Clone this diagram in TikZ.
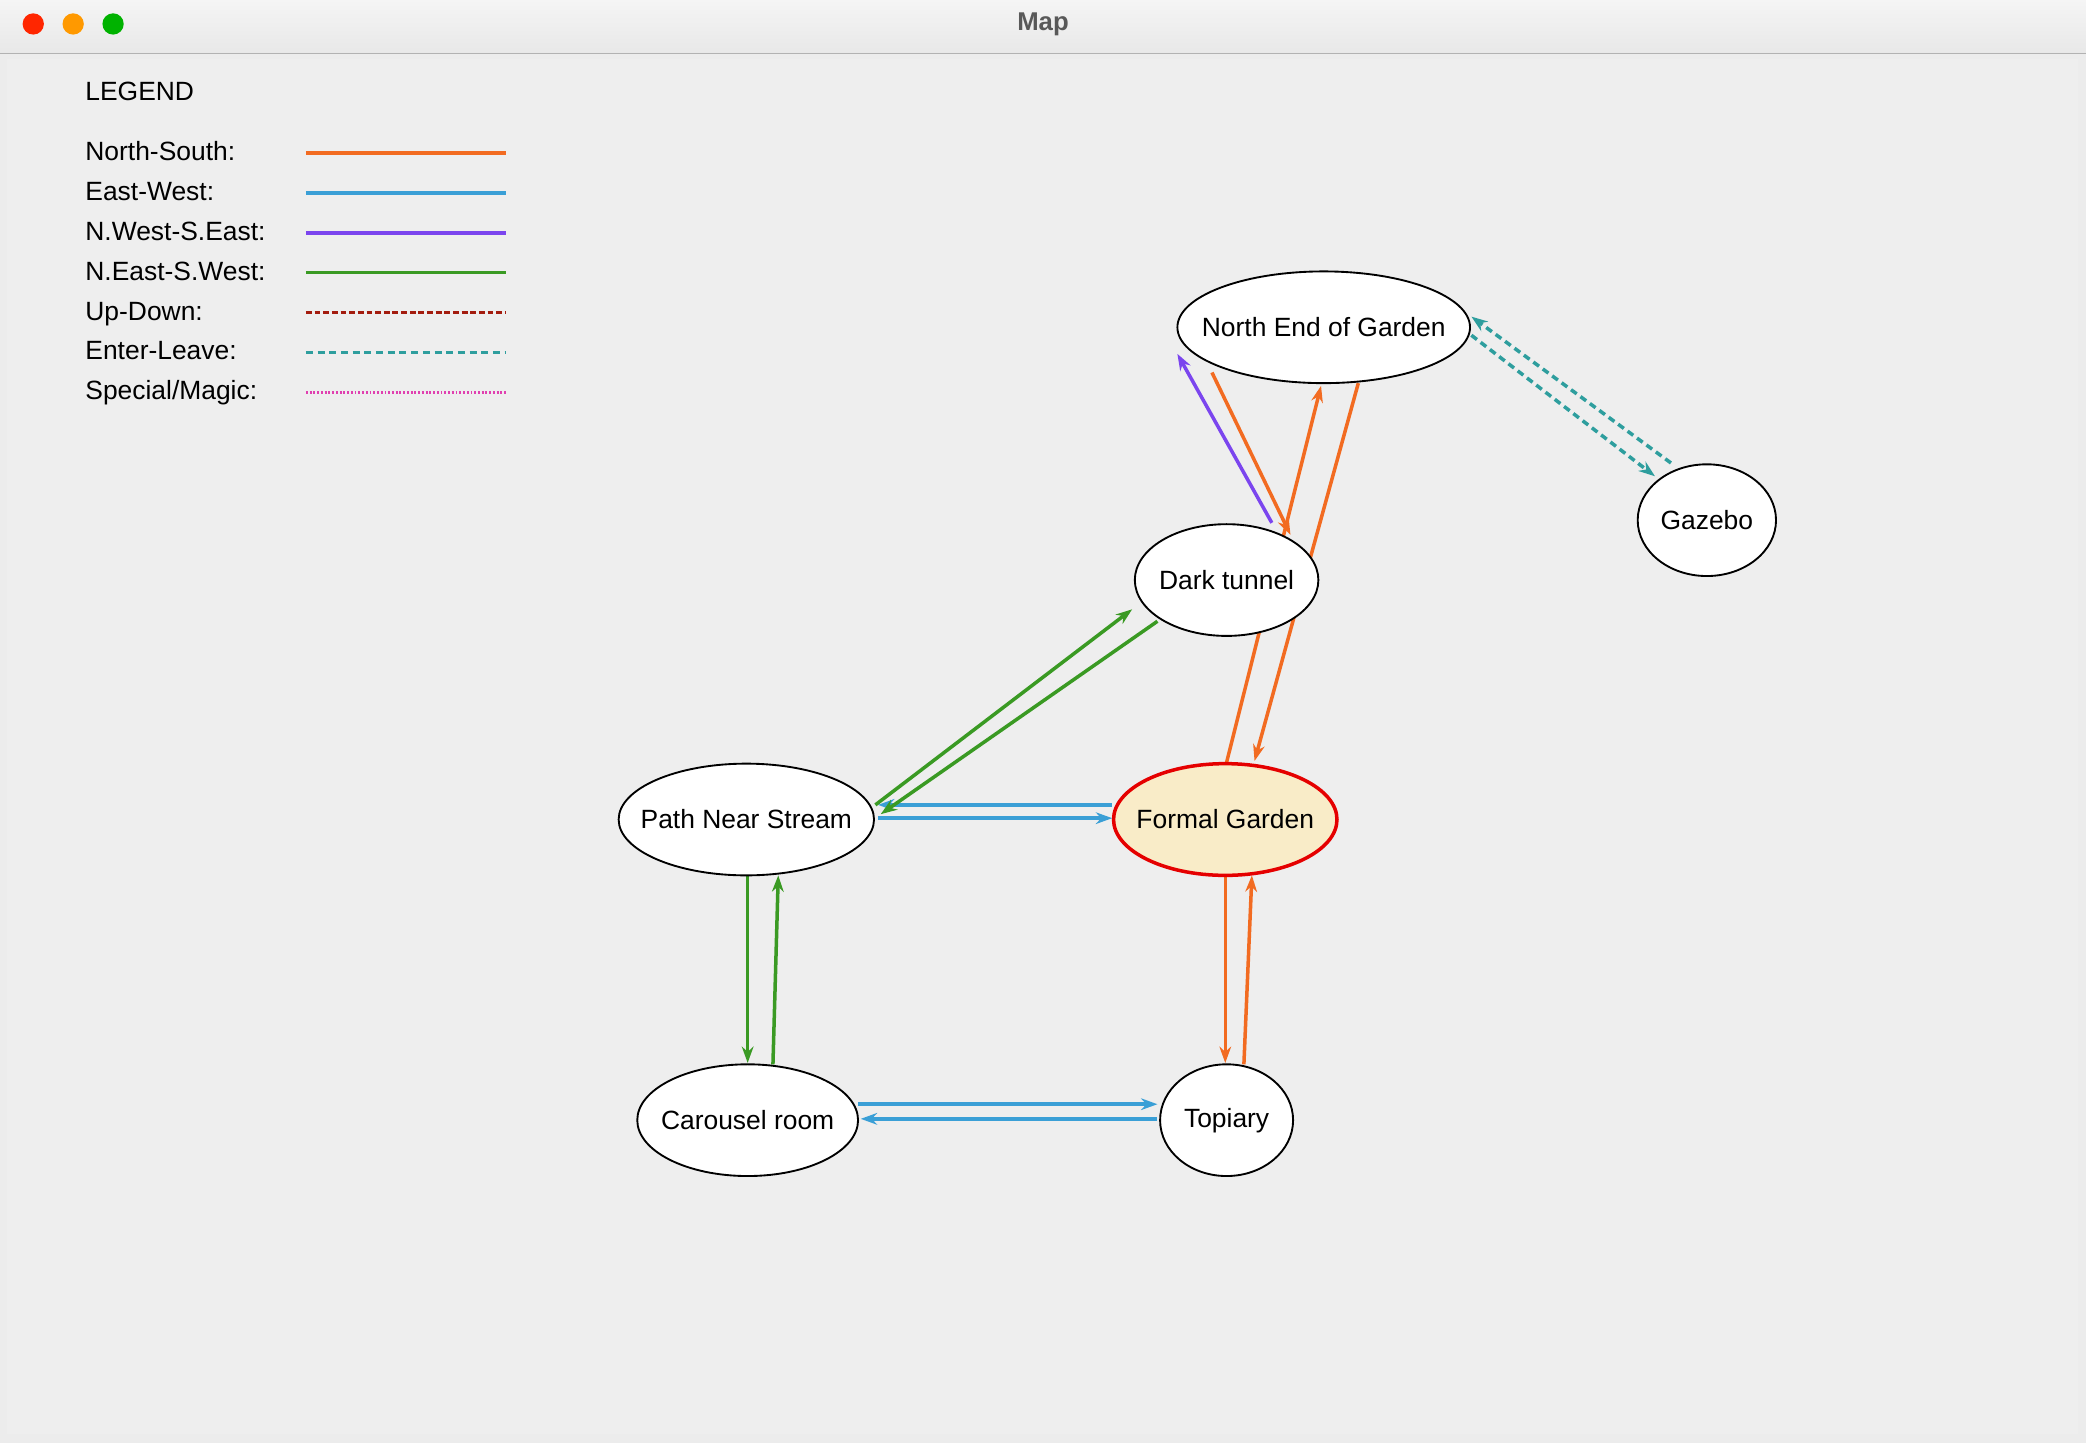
\documentclass[tikz,border=0pt]{standalone}
\usepackage{fontspec}
\setmainfont{Liberation Sans}
\usetikzlibrary{calc,shapes.geometric,arrows.meta}
\definecolor{ns}{RGB}{242,107,33}
\definecolor{ew}{RGB}{58,159,214}
\definecolor{nwse}{RGB}{123,69,238}
\definecolor{nesw}{RGB}{58,154,35}
\definecolor{ud}{RGB}{163,28,14}
\definecolor{el}{RGB}{46,158,158}
\definecolor{mag}{RGB}{224,64,176}
\definecolor{bg}{RGB}{238,238,238}
\definecolor{fgfill}{RGB}{249,236,200}
\tikzset{
  room/.style={ellipse,draw,line width=0.8pt,fill=white,inner sep=0pt,minimum height=1.68cm,
    label={[font=\fontsize{11.3}{13}\selectfont]center:#1}},
  lab/.style={anchor=west,text height=1.6ex,text depth=.4ex,font=\fontsize{11.3}{13}\selectfont},
  link/.style={line width=1.5pt,-{Stealth[length=7pt,width=5pt]}},
  solidl/.style={},
  udl/.style={dash pattern=on 2.5pt off 1.2pt},
  ell/.style={dash pattern=on 3pt off 2pt},
  magl/.style={dash pattern=on 0.8pt off 0.8pt},
}
\begin{document}
\begin{tikzpicture}[x=0.02cm,y=-0.02cm]
\useasboundingbox (0,0) rectangle (1568,1085);
% window
\fill[white!85!gray] (0,0) rectangle (1568,1085);
\shade[top color=white!92!gray,bottom color=white!82!gray] (0,0) rectangle (1568,40);
\draw[gray!60] (0,40) -- (1568,40);
\fill[bg] (5,44) rectangle (1562,1078);
\fill[red!70!orange] (25,18) circle (8);
\fill[orange!80!yellow] (55,18) circle (8);
\fill[green!70!black] (85,18) circle (8);
\node[font=\bfseries\fontsize{11}{13}\selectfont,text=black!65] (title) at (784,18) {Map};
% legend
\node[lab] (leg) at (58,70) {LEGEND};
\foreach \t/\c/\s [count=\i] in {North-South:/ns/solidl,East-West:/ew/solidl,N.West-S.East:/nwse/solidl,N.East-S.West:/nesw/solidl,Up-Down:/ud/udl,Enter-Leave:/el/ell,{Special/Magic:}/mag/magl}{
  \node[lab] (l\i) at (58,85+30*\i) {\t};
  \coordinate (a\i) at (230,85+30*\i);
  \coordinate (b\i) at (380,85+30*\i);
  \draw[\c,line width=1.5pt,\s] (a\i) -- (b\i);
}
% room centres
\coordinate (N) at (995,246);
\coordinate (G) at (1283,391);
\coordinate (D) at (922,436);
\coordinate (P) at (561,616);
\coordinate (F) at (921,616);
\coordinate (C) at (562,842);
\coordinate (T) at (922,842);
% edges
\draw[link,ns] ($(F)+(1,-43)$) -- ($(N)+(-2,44)$);
\draw[link,ns] ($(N)+(26,42)$) -- ($(F)+(22,-44)$);
\draw[link,ns] ($(N)+(-84,34)$) -- ($(D)+(48,-34)$);
\draw[link,nwse] ($(D)+(34,-43)$) -- ($(N)+(-110,20)$);
\draw[link,el,ell] ($(N)+(111,6)$) -- ($(G)+(-39,-33)$);
\draw[link,el,ell] ($(G)+(-27,-43)$) -- ($(N)+(111,-8)$);
\draw[link,ew] ($(P)+(99,-1)$) -- ($(F)+(-85,-1)$);
\draw[link,ew] ($(F)+(-85,-11)$) -- ($(P)+(99,-11)$);
\draw[link,nesw] ($(P)+(97,-11)$) -- ($(D)+(-71,22)$);
\draw[link,nesw] ($(D)+(-52,31)$) -- ($(P)+(101,-4)$);
\draw[link,nesw] ($(P)+(1,42)$) -- ($(C)+(0,-43)$);
\draw[link,nesw] ($(C)+(19,-42)$) -- ($(P)+(24,42)$);
\draw[link,ew] ($(C)+(83,-12)$) -- ($(T)+(-52,-12)$);
\draw[link,ew] ($(T)+(-52,-1)$) -- ($(C)+(85,-1)$);
\draw[link,ns] ($(F)+(0,42)$) -- ($(T)+(-1,-43)$);
\draw[link,ns] ($(T)+(13,-42)$) -- ($(F)+(20,42)$);
% rooms
\node[room={North End of Garden},minimum width=4.4cm] (north) at (N) {};
\node[room=Gazebo,minimum width=2.08cm] (gazebo) at (G) {};
\node[room={Dark tunnel},minimum width=2.76cm] (dark) at (D) {};
\node[room={Path Near Stream},minimum width=3.84cm] (path) at (P) {};
\node[room={Formal Garden},fill=fgfill,draw=red!90!black,line width=1.5pt,minimum width=3.36cm] (formal) at (F) {};
\node[room={Carousel room},minimum width=3.32cm] (carousel) at (C) {};
\node[room=Topiary,minimum width=2cm] (topiary) at (T) {};
\end{tikzpicture}
\end{document}
